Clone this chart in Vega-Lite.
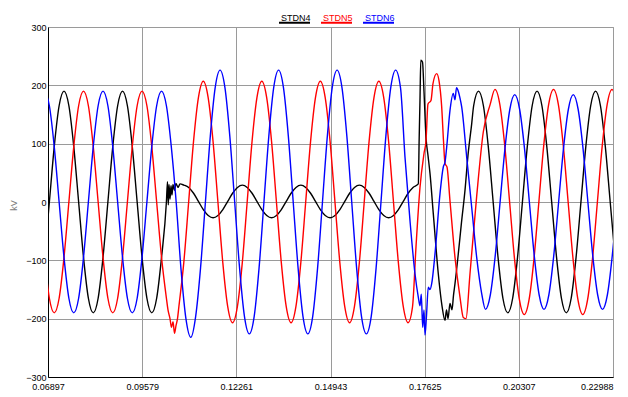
{
"$schema": "https://vega.github.io/schema/vega-lite/v6.json",
"autosize": "none",
"width": 565,
"height": 350,
"padding": {"left": 48, "top": 27, "right": 15, "bottom": 20},
"background": "#ffffff",
"config": {
  "view": {"stroke": "#9a9a9a", "strokeWidth": 1},
  "font": "Liberation Sans Narrow, Liberation Sans, Arial, sans-serif"
},
"data": {"values": [
{"t":0.067971,"s":"STDN4","v":-95},{"t":0.069360,"s":"STDN4","v":0},{"t":0.070749,"s":"STDN4","v":95},{"t":0.072138,"s":"STDN4","v":165},{"t":0.073527,"s":"STDN4","v":190},{"t":0.074916,"s":"STDN4","v":165},{"t":0.076305,"s":"STDN4","v":95},{"t":0.077694,"s":"STDN4","v":0},{"t":0.079083,"s":"STDN4","v":-95},{"t":0.080471,"s":"STDN4","v":-165},{"t":0.081860,"s":"STDN4","v":-190},{"t":0.083249,"s":"STDN4","v":-165},{"t":0.084638,"s":"STDN4","v":-95},{"t":0.086027,"s":"STDN4","v":0},{"t":0.087416,"s":"STDN4","v":95},{"t":0.088805,"s":"STDN4","v":165},{"t":0.090194,"s":"STDN4","v":190},{"t":0.091583,"s":"STDN4","v":165},{"t":0.092972,"s":"STDN4","v":95},{"t":0.094361,"s":"STDN4","v":0},{"t":0.095750,"s":"STDN4","v":-95},{"t":0.097138,"s":"STDN4","v":-165},{"t":0.098527,"s":"STDN4","v":-190},{"t":0.099916,"s":"STDN4","v":-165},{"t":0.101305,"s":"STDN4","v":-95},{"t":0.102694,"s":"STDN4","v":0},
{"t":0.103002,"s":"STDN4","v":35},{"t":0.103230,"s":"STDN4","v":-5},{"t":0.103430,"s":"STDN4","v":30},{"t":0.103715,"s":"STDN4","v":5},{"t":0.104000,"s":"STDN4","v":28},{"t":0.104284,"s":"STDN4","v":12},{"t":0.104569,"s":"STDN4","v":30},{"t":0.104996,"s":"STDN4","v":20},{"t":0.105423,"s":"STDN4","v":32},{"t":0.105993,"s":"STDN4","v":25},{"t":0.106562,"s":"STDN4","v":31},
{"t":0.107650,"s":"STDN4","v":29},{"t":0.109038,"s":"STDN4","v":25},{"t":0.110427,"s":"STDN4","v":15},{"t":0.111816,"s":"STDN4","v":1},{"t":0.113205,"s":"STDN4","v":-13},{"t":0.114594,"s":"STDN4","v":-23},{"t":0.115983,"s":"STDN4","v":-27},{"t":0.117372,"s":"STDN4","v":-23},{"t":0.118761,"s":"STDN4","v":-13},{"t":0.120150,"s":"STDN4","v":1},{"t":0.121538,"s":"STDN4","v":15},{"t":0.122927,"s":"STDN4","v":25},
{"t":0.124316,"s":"STDN4","v":29},{"t":0.125705,"s":"STDN4","v":25},{"t":0.127094,"s":"STDN4","v":15},{"t":0.128483,"s":"STDN4","v":1},{"t":0.129871,"s":"STDN4","v":-13},{"t":0.131260,"s":"STDN4","v":-23},{"t":0.132649,"s":"STDN4","v":-27},{"t":0.134038,"s":"STDN4","v":-23},{"t":0.135427,"s":"STDN4","v":-13},{"t":0.136816,"s":"STDN4","v":1},{"t":0.138205,"s":"STDN4","v":15},{"t":0.139594,"s":"STDN4","v":25},
{"t":0.140983,"s":"STDN4","v":29},{"t":0.142372,"s":"STDN4","v":25},{"t":0.143761,"s":"STDN4","v":15},{"t":0.145150,"s":"STDN4","v":1},{"t":0.146538,"s":"STDN4","v":-13},{"t":0.147927,"s":"STDN4","v":-23},{"t":0.149316,"s":"STDN4","v":-27},{"t":0.150705,"s":"STDN4","v":-23},{"t":0.152094,"s":"STDN4","v":-13},{"t":0.153483,"s":"STDN4","v":1},{"t":0.154872,"s":"STDN4","v":15},{"t":0.156261,"s":"STDN4","v":25},
{"t":0.157650,"s":"STDN4","v":29},{"t":0.159038,"s":"STDN4","v":25},{"t":0.160427,"s":"STDN4","v":15},{"t":0.161816,"s":"STDN4","v":1},{"t":0.163205,"s":"STDN4","v":-13},{"t":0.164594,"s":"STDN4","v":-23},{"t":0.165983,"s":"STDN4","v":-27},{"t":0.167372,"s":"STDN4","v":-23},{"t":0.168761,"s":"STDN4","v":-13},{"t":0.170150,"s":"STDN4","v":1},{"t":0.171538,"s":"STDN4","v":15},{"t":0.172927,"s":"STDN4","v":25},
{"t":0.174428,"s":"STDN4","v":31},{"t":0.174684,"s":"STDN4","v":110},{"t":0.174912,"s":"STDN4","v":175},{"t":0.175140,"s":"STDN4","v":243},{"t":0.175624,"s":"STDN4","v":240},{"t":0.176051,"s":"STDN4","v":190},{"t":0.176621,"s":"STDN4","v":111},{"t":0.177190,"s":"STDN4","v":80},{"t":0.177760,"s":"STDN4","v":49},{"t":0.178700,"s":"STDN4","v":-20},{"t":0.180124,"s":"STDN4","v":-123},{"t":0.181177,"s":"STDN4","v":-178},{"t":0.182032,"s":"STDN4","v":-203},{"t":0.182459,"s":"STDN4","v":-185},{"t":0.182886,"s":"STDN4","v":-200},{"t":0.183456,"s":"STDN4","v":-174},{"t":0.184025,"s":"STDN4","v":-185},{"t":0.184452,"s":"STDN4","v":-160},{"t":0.184880,"s":"STDN4","v":-140},{"t":0.185819,"s":"STDN4","v":-89},{"t":0.186731,"s":"STDN4","v":-35},{"t":0.187727,"s":"STDN4","v":20},{"t":0.188582,"s":"STDN4","v":80},{"t":0.189635,"s":"STDN4","v":134},
{"t":0.190194,"s":"STDN4","v":165},{"t":0.191583,"s":"STDN4","v":190},{"t":0.192972,"s":"STDN4","v":165},{"t":0.194361,"s":"STDN4","v":95},{"t":0.195750,"s":"STDN4","v":0},{"t":0.197138,"s":"STDN4","v":-95},{"t":0.198527,"s":"STDN4","v":-165},{"t":0.199916,"s":"STDN4","v":-190},{"t":0.201305,"s":"STDN4","v":-165},{"t":0.202694,"s":"STDN4","v":-95},{"t":0.204083,"s":"STDN4","v":0},{"t":0.205472,"s":"STDN4","v":95},{"t":0.206861,"s":"STDN4","v":165},{"t":0.208250,"s":"STDN4","v":190},{"t":0.209638,"s":"STDN4","v":165},{"t":0.211027,"s":"STDN4","v":95},{"t":0.212416,"s":"STDN4","v":0},{"t":0.213805,"s":"STDN4","v":-95},{"t":0.215194,"s":"STDN4","v":-165},{"t":0.216583,"s":"STDN4","v":-190},{"t":0.217972,"s":"STDN4","v":-165},{"t":0.219361,"s":"STDN4","v":-95},{"t":0.220750,"s":"STDN4","v":0},{"t":0.222138,"s":"STDN4","v":95},{"t":0.223527,"s":"STDN4","v":165},{"t":0.224916,"s":"STDN4","v":190},{"t":0.226305,"s":"STDN4","v":165},{"t":0.227694,"s":"STDN4","v":95},{"t":0.229083,"s":"STDN4","v":0},{"t":0.230471,"s":"STDN4","v":-95},

{"t":0.067971,"s":"STDN5","v":-95},{"t":0.069360,"s":"STDN5","v":-165},{"t":0.070749,"s":"STDN5","v":-190},{"t":0.072138,"s":"STDN5","v":-165},{"t":0.073527,"s":"STDN5","v":-95},{"t":0.074916,"s":"STDN5","v":0},{"t":0.076305,"s":"STDN5","v":95},{"t":0.077694,"s":"STDN5","v":165},{"t":0.079083,"s":"STDN5","v":190},{"t":0.080471,"s":"STDN5","v":165},{"t":0.081860,"s":"STDN5","v":95},{"t":0.083249,"s":"STDN5","v":0},{"t":0.084638,"s":"STDN5","v":-95},{"t":0.086027,"s":"STDN5","v":-165},{"t":0.087416,"s":"STDN5","v":-190},{"t":0.088805,"s":"STDN5","v":-165},{"t":0.090194,"s":"STDN5","v":-95},{"t":0.091583,"s":"STDN5","v":0},{"t":0.092972,"s":"STDN5","v":95},{"t":0.094361,"s":"STDN5","v":165},{"t":0.095750,"s":"STDN5","v":190},{"t":0.097138,"s":"STDN5","v":165},{"t":0.098527,"s":"STDN5","v":95},{"t":0.099916,"s":"STDN5","v":0},{"t":0.101305,"s":"STDN5","v":-95},{"t":0.102694,"s":"STDN5","v":-165},
{"t":0.103145,"s":"STDN5","v":-185},{"t":0.103715,"s":"STDN5","v":-200},{"t":0.104142,"s":"STDN5","v":-215},{"t":0.104569,"s":"STDN5","v":-205},{"t":0.104996,"s":"STDN5","v":-225},{"t":0.105423,"s":"STDN5","v":-212},{"t":0.105850,"s":"STDN5","v":-200},
{"t":0.106252,"s":"STDN5","v":-179},{"t":0.107641,"s":"STDN5","v":-104},{"t":0.109030,"s":"STDN5","v":0},{"t":0.110418,"s":"STDN5","v":104},{"t":0.111807,"s":"STDN5","v":179},{"t":0.113196,"s":"STDN5","v":207},{"t":0.114585,"s":"STDN5","v":179},{"t":0.115974,"s":"STDN5","v":104},{"t":0.117363,"s":"STDN5","v":0},{"t":0.118752,"s":"STDN5","v":-104},{"t":0.120141,"s":"STDN5","v":-179},{"t":0.121530,"s":"STDN5","v":-207},{"t":0.122918,"s":"STDN5","v":-179},{"t":0.124307,"s":"STDN5","v":-104},{"t":0.125696,"s":"STDN5","v":0},{"t":0.127085,"s":"STDN5","v":104},{"t":0.128474,"s":"STDN5","v":179},{"t":0.129863,"s":"STDN5","v":207},{"t":0.131251,"s":"STDN5","v":179},{"t":0.132640,"s":"STDN5","v":104},{"t":0.134029,"s":"STDN5","v":0},{"t":0.135418,"s":"STDN5","v":-104},{"t":0.136807,"s":"STDN5","v":-179},{"t":0.138196,"s":"STDN5","v":-207},{"t":0.139585,"s":"STDN5","v":-179},{"t":0.140974,"s":"STDN5","v":-104},{"t":0.142363,"s":"STDN5","v":0},{"t":0.143752,"s":"STDN5","v":104},{"t":0.145141,"s":"STDN5","v":179},{"t":0.146530,"s":"STDN5","v":207},{"t":0.147918,"s":"STDN5","v":179},{"t":0.149307,"s":"STDN5","v":104},{"t":0.150696,"s":"STDN5","v":0},{"t":0.152085,"s":"STDN5","v":-104},{"t":0.153474,"s":"STDN5","v":-179},{"t":0.154863,"s":"STDN5","v":-207},{"t":0.156252,"s":"STDN5","v":-179},{"t":0.157641,"s":"STDN5","v":-104},{"t":0.159030,"s":"STDN5","v":0},{"t":0.160418,"s":"STDN5","v":104},{"t":0.161807,"s":"STDN5","v":179},{"t":0.163196,"s":"STDN5","v":207},{"t":0.164585,"s":"STDN5","v":179},{"t":0.165974,"s":"STDN5","v":104},{"t":0.167363,"s":"STDN5","v":0},{"t":0.168752,"s":"STDN5","v":-104},{"t":0.170141,"s":"STDN5","v":-179},{"t":0.171530,"s":"STDN5","v":-207},
{"t":0.172776,"s":"STDN5","v":-180},{"t":0.173773,"s":"STDN5","v":-77},{"t":0.174912,"s":"STDN5","v":25},{"t":0.176051,"s":"STDN5","v":83},{"t":0.176621,"s":"STDN5","v":105},{"t":0.177190,"s":"STDN5","v":168},{"t":0.178045,"s":"STDN5","v":174},{"t":0.178614,"s":"STDN5","v":203},{"t":0.179668,"s":"STDN5","v":220},{"t":0.180323,"s":"STDN5","v":208},{"t":0.181092,"s":"STDN5","v":163},{"t":0.181604,"s":"STDN5","v":105},{"t":0.182032,"s":"STDN5","v":66},{"t":0.182601,"s":"STDN5","v":60},{"t":0.183456,"s":"STDN5","v":2},{"t":0.184880,"s":"STDN5","v":-95},{"t":0.186303,"s":"STDN5","v":-163},{"t":0.187243,"s":"STDN5","v":-198},{"t":0.188012,"s":"STDN5","v":-200},{"t":0.189151,"s":"STDN5","v":-123},{"t":0.191059,"s":"STDN5","v":10},{"t":0.192939,"s":"STDN5","v":120},
{"t":0.194881,"s":"STDN5","v":167},{"t":0.196270,"s":"STDN5","v":193},{"t":0.197658,"s":"STDN5","v":167},{"t":0.199047,"s":"STDN5","v":97},{"t":0.200436,"s":"STDN5","v":0},{"t":0.201825,"s":"STDN5","v":-97},{"t":0.203214,"s":"STDN5","v":-167},{"t":0.204603,"s":"STDN5","v":-193},{"t":0.205992,"s":"STDN5","v":-167},{"t":0.207381,"s":"STDN5","v":-97},{"t":0.208770,"s":"STDN5","v":0},{"t":0.210158,"s":"STDN5","v":97},{"t":0.211547,"s":"STDN5","v":167},{"t":0.212936,"s":"STDN5","v":193},{"t":0.214325,"s":"STDN5","v":167},{"t":0.215714,"s":"STDN5","v":97},{"t":0.217103,"s":"STDN5","v":0},{"t":0.218492,"s":"STDN5","v":-97},{"t":0.219881,"s":"STDN5","v":-167},{"t":0.221270,"s":"STDN5","v":-193},{"t":0.222658,"s":"STDN5","v":-167},{"t":0.224047,"s":"STDN5","v":-97},{"t":0.225436,"s":"STDN5","v":0},{"t":0.226825,"s":"STDN5","v":97},{"t":0.228214,"s":"STDN5","v":167},{"t":0.229603,"s":"STDN5","v":193},{"t":0.230991,"s":"STDN5","v":167},

{"t":0.067971,"s":"STDN6","v":190},{"t":0.069360,"s":"STDN6","v":165},{"t":0.070749,"s":"STDN6","v":95},{"t":0.072138,"s":"STDN6","v":0},{"t":0.073527,"s":"STDN6","v":-95},{"t":0.074916,"s":"STDN6","v":-165},{"t":0.076305,"s":"STDN6","v":-190},{"t":0.077694,"s":"STDN6","v":-165},{"t":0.079083,"s":"STDN6","v":-95},{"t":0.080471,"s":"STDN6","v":0},{"t":0.081860,"s":"STDN6","v":95},{"t":0.083249,"s":"STDN6","v":165},{"t":0.084638,"s":"STDN6","v":190},{"t":0.086027,"s":"STDN6","v":165},{"t":0.087416,"s":"STDN6","v":95},{"t":0.088805,"s":"STDN6","v":0},{"t":0.090194,"s":"STDN6","v":-95},{"t":0.091583,"s":"STDN6","v":-165},{"t":0.092972,"s":"STDN6","v":-190},{"t":0.094361,"s":"STDN6","v":-165},{"t":0.095750,"s":"STDN6","v":-95},{"t":0.097138,"s":"STDN6","v":0},{"t":0.098527,"s":"STDN6","v":95},{"t":0.099916,"s":"STDN6","v":165},{"t":0.101305,"s":"STDN6","v":190},{"t":0.102694,"s":"STDN6","v":165},{"t":0.104083,"s":"STDN6","v":95},{"t":0.105472,"s":"STDN6","v":0},{"t":0.106861,"s":"STDN6","v":-116},{"t":0.108250,"s":"STDN6","v":-200},{"t":0.109638,"s":"STDN6","v":-232},
{"t":0.111027,"s":"STDN6","v":-196},{"t":0.112416,"s":"STDN6","v":-113},{"t":0.113805,"s":"STDN6","v":0},{"t":0.115194,"s":"STDN6","v":113},{"t":0.116583,"s":"STDN6","v":196},{"t":0.117972,"s":"STDN6","v":226},{"t":0.119361,"s":"STDN6","v":196},{"t":0.120750,"s":"STDN6","v":113},{"t":0.122138,"s":"STDN6","v":0},{"t":0.123527,"s":"STDN6","v":-113},{"t":0.124916,"s":"STDN6","v":-196},{"t":0.126305,"s":"STDN6","v":-226},{"t":0.127694,"s":"STDN6","v":-196},{"t":0.129083,"s":"STDN6","v":-113},{"t":0.130471,"s":"STDN6","v":0},{"t":0.131860,"s":"STDN6","v":113},{"t":0.133249,"s":"STDN6","v":196},{"t":0.134638,"s":"STDN6","v":226},{"t":0.136027,"s":"STDN6","v":196},{"t":0.137416,"s":"STDN6","v":113},{"t":0.138805,"s":"STDN6","v":0},{"t":0.140194,"s":"STDN6","v":-113},{"t":0.141583,"s":"STDN6","v":-196},{"t":0.142972,"s":"STDN6","v":-226},{"t":0.144361,"s":"STDN6","v":-196},{"t":0.145750,"s":"STDN6","v":-113},{"t":0.147138,"s":"STDN6","v":0},{"t":0.148527,"s":"STDN6","v":113},{"t":0.149916,"s":"STDN6","v":196},{"t":0.151305,"s":"STDN6","v":226},{"t":0.152694,"s":"STDN6","v":196},{"t":0.154083,"s":"STDN6","v":113},{"t":0.155472,"s":"STDN6","v":0},{"t":0.156861,"s":"STDN6","v":-113},{"t":0.158250,"s":"STDN6","v":-196},{"t":0.159638,"s":"STDN6","v":-226},{"t":0.161027,"s":"STDN6","v":-196},{"t":0.162416,"s":"STDN6","v":-113},{"t":0.163805,"s":"STDN6","v":0},{"t":0.165194,"s":"STDN6","v":113},{"t":0.166583,"s":"STDN6","v":196},{"t":0.167972,"s":"STDN6","v":226},{"t":0.169361,"s":"STDN6","v":196},
{"t":0.170640,"s":"STDN6","v":77},{"t":0.172064,"s":"STDN6","v":-32},{"t":0.173488,"s":"STDN6","v":-123},{"t":0.174428,"s":"STDN6","v":-163},{"t":0.174912,"s":"STDN6","v":-178},{"t":0.175282,"s":"STDN6","v":-158},{"t":0.175681,"s":"STDN6","v":-215},{"t":0.176051,"s":"STDN6","v":-185},{"t":0.176336,"s":"STDN6","v":-228},{"t":0.176763,"s":"STDN6","v":-195},{"t":0.177276,"s":"STDN6","v":-146},{"t":0.177760,"s":"STDN6","v":-150},{"t":0.178244,"s":"STDN6","v":-140},{"t":0.179184,"s":"STDN6","v":-89},{"t":0.180608,"s":"STDN6","v":14},{"t":0.181548,"s":"STDN6","v":60},{"t":0.182032,"s":"STDN6","v":68},{"t":0.182516,"s":"STDN6","v":94},{"t":0.183456,"s":"STDN6","v":157},{"t":0.184395,"s":"STDN6","v":186},{"t":0.184880,"s":"STDN6","v":175},{"t":0.185307,"s":"STDN6","v":196},{"t":0.185819,"s":"STDN6","v":190},{"t":0.186303,"s":"STDN6","v":178},{"t":0.186788,"s":"STDN6","v":163},{"t":0.188212,"s":"STDN6","v":77},{"t":0.189635,"s":"STDN6","v":-9},{"t":0.191059,"s":"STDN6","v":-95},{"t":0.192483,"s":"STDN6","v":-157},
{"t":0.193562,"s":"STDN6","v":-184},{"t":0.194951,"s":"STDN6","v":-159},{"t":0.196340,"s":"STDN6","v":-92},{"t":0.197728,"s":"STDN6","v":0},{"t":0.199117,"s":"STDN6","v":92},{"t":0.200506,"s":"STDN6","v":159},{"t":0.201895,"s":"STDN6","v":184},{"t":0.203284,"s":"STDN6","v":159},{"t":0.204673,"s":"STDN6","v":92},{"t":0.206062,"s":"STDN6","v":0},{"t":0.207451,"s":"STDN6","v":-92},{"t":0.208840,"s":"STDN6","v":-159},{"t":0.210228,"s":"STDN6","v":-184},{"t":0.211617,"s":"STDN6","v":-159},{"t":0.213006,"s":"STDN6","v":-92},{"t":0.214395,"s":"STDN6","v":0},{"t":0.215784,"s":"STDN6","v":92},{"t":0.217173,"s":"STDN6","v":159},{"t":0.218562,"s":"STDN6","v":184},{"t":0.219951,"s":"STDN6","v":159},{"t":0.221340,"s":"STDN6","v":92},{"t":0.222728,"s":"STDN6","v":0},{"t":0.224117,"s":"STDN6","v":-92},{"t":0.225506,"s":"STDN6","v":-159},{"t":0.226895,"s":"STDN6","v":-184},{"t":0.228284,"s":"STDN6","v":-159},{"t":0.229673,"s":"STDN6","v":-92},{"t":0.231062,"s":"STDN6","v":0}
]},
"mark": {"type": "line", "interpolate": "monotone", "strokeWidth": 1.4, "clip": true},
"encoding": {
  "x": {"field": "t", "type": "quantitative",
    "scale": {"domain": [0.06897, 0.22988], "nice": false, "zero": false},
    "axis": {"title": null, "values": [0.06897, 0.09579, 0.12261, 0.14943, 0.17625, 0.20307, 0.22988], "format": ".5f",
      "grid": true, "gridColor": "#9a9a9a", "gridWidth": 1, "ticks": false, "domainColor": "#000000", "domainWidth": 1,
      "labelFontSize": 9, "labelColor": "#000000", "labelPadding": 5, "labelFlush": false, "labelOverlap": false,
      "labelAlign": {"expr": "datum.value > 0.229 ? 'right' : 'center'"},
      "labelDx": {"expr": "datum.value > 0.229 ? 14 : 0"}}},
  "y": {"field": "v", "type": "quantitative",
    "scale": {"domain": [-300, 300], "nice": false},
    "axis": {"title": "kV", "values": [-300, -200, -100, 0, 100, 200, 300],
      "grid": true, "gridColor": "#9a9a9a", "gridWidth": 1, "ticks": false, "domainColor": "#000000", "domainWidth": 1,
      "labelFontSize": 9, "labelColor": "#000000", "labelPadding": 2,
      "titleColor": "#808080", "titleFontSize": 9, "titleFontWeight": "normal", "titleX": -30, "titleY": 178, "titleAngle": -90}},
  "color": {"field": "s", "type": "nominal",
    "scale": {"domain": ["STDN4", "STDN5", "STDN6"], "range": ["#000000", "#ff0000", "#0000ff"]},
    "legend": {"title": null, "orient": "none", "legendX": 230, "legendY": -21, "direction": "horizontal",
      "symbolType": "stroke", "symbolSize": 961, "symbolStrokeWidth": 2, "labelOffset": -30, "labelBaseline": "bottom",
      "labelFontSize": 9, "columnPadding": 3, "padding": 0,
      "labelColor": {"expr": "datum.value === 'STDN5' ? '#ff0000' : datum.value === 'STDN6' ? '#0000ff' : '#000000'"}}}
}
}
